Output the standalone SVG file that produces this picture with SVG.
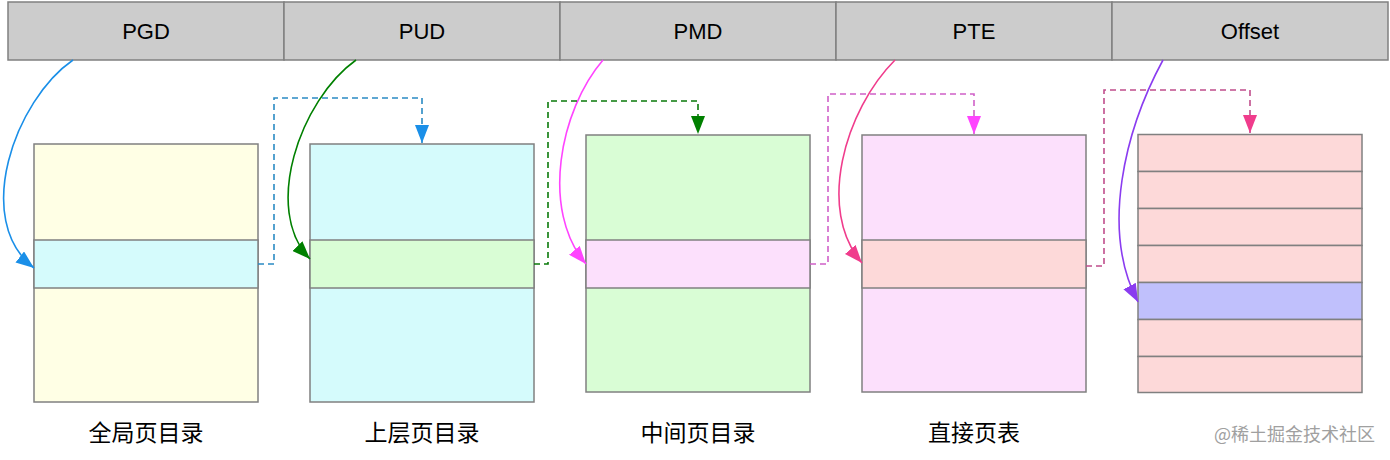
<svg xmlns="http://www.w3.org/2000/svg" width="1390" height="460" viewBox="0 0 1390 460">
<style>
.cell{fill:#cccccc;stroke:#808080;stroke-width:1.5}
.hd{font-family:"Liberation Sans",Arial,sans-serif;font-size:22px;fill:#000;text-anchor:middle}
.box{stroke:#808080;stroke-width:1.5}
.lbl{font-family:"Noto Sans CJK SC","Noto Sans",sans-serif;font-size:23px;fill:#000;text-anchor:middle}
.wm{font-family:"Noto Sans CJK SC","Noto Sans",sans-serif;font-size:18px;fill:#a0a0a0}
.cur{fill:none;stroke-width:1.6}
.dash{fill:none;stroke-width:1.6;stroke-dasharray:6 4}
</style>
<defs>
<marker id="mBlue" markerUnits="userSpaceOnUse" markerWidth="18" markerHeight="14" refX="18" refY="7" orient="auto"><path d="M0,0 L18,7 L0,14 z" fill="#1a8fe8"/></marker>
<marker id="mGreen" markerUnits="userSpaceOnUse" markerWidth="18" markerHeight="14" refX="18" refY="7" orient="auto"><path d="M0,0 L18,7 L0,14 z" fill="#008000"/></marker>
<marker id="mMag" markerUnits="userSpaceOnUse" markerWidth="18" markerHeight="14" refX="18" refY="7" orient="auto"><path d="M0,0 L18,7 L0,14 z" fill="#ff44ff"/></marker>
<marker id="mRed" markerUnits="userSpaceOnUse" markerWidth="18" markerHeight="14" refX="18" refY="7" orient="auto"><path d="M0,0 L18,7 L0,14 z" fill="#f03c8c"/></marker>
<marker id="mPur" markerUnits="userSpaceOnUse" markerWidth="18" markerHeight="14" refX="18" refY="7" orient="auto"><path d="M0,0 L18,7 L0,14 z" fill="#8a3cf0"/></marker>
</defs>
<rect width="1390" height="460" fill="#ffffff"/>

<g id="header">
<g id="h-pgd"><rect class="cell" x="8" y="2" width="276" height="58"/><text class="hd" x="146" y="39">PGD</text></g>
<g id="h-pud"><rect class="cell" x="284" y="2" width="276" height="58"/><text class="hd" x="422" y="39">PUD</text></g>
<g id="h-pmd"><rect class="cell" x="560" y="2" width="276" height="58"/><text class="hd" x="698" y="39">PMD</text></g>
<g id="h-pte"><rect class="cell" x="836" y="2" width="276" height="58"/><text class="hd" x="974" y="39">PTE</text></g>
<g id="h-off"><rect class="cell" x="1112" y="2" width="276" height="58"/><text class="hd" x="1250" y="39">Offset</text></g>
</g>

<g id="pgd-table">
<rect class="box" x="34" y="144" width="224" height="258" fill="#ffffe5"/>
<rect class="box" x="34" y="240" width="224" height="48" fill="#d5fbfc"/>
<text class="lbl" x="146" y="441">全局页目录</text>
</g>
<g id="pud-table">
<rect class="box" x="310" y="144" width="224" height="258" fill="#d5fbfc"/>
<rect class="box" x="310" y="240" width="224" height="48" fill="#d9fdd5"/>
<text class="lbl" x="422" y="441">上层页目录</text>
</g>
<g id="pmd-table">
<rect class="box" x="586" y="135" width="224" height="257" fill="#d9fdd5"/>
<rect class="box" x="586" y="240" width="224" height="48" fill="#fce0fc"/>
<text class="lbl" x="698" y="441">中间页目录</text>
</g>
<g id="pte-table">
<rect class="box" x="862" y="135" width="224" height="257" fill="#fce0fc"/>
<rect class="box" x="862" y="240" width="224" height="48" fill="#fdd9d9"/>
<text class="lbl" x="974" y="441">直接页表</text>
</g>
<g id="page">
<rect class="box" x="1138" y="134.5" width="224" height="37" fill="#fdd9d9"/>
<rect class="box" x="1138" y="171.5" width="224" height="37" fill="#fdd9d9"/>
<rect class="box" x="1138" y="208.5" width="224" height="37" fill="#fdd9d9"/>
<rect class="box" x="1138" y="245.5" width="224" height="37" fill="#fdd9d9"/>
<rect class="box" x="1138" y="282.5" width="224" height="37" fill="#c0c0fc"/>
<rect class="box" x="1138" y="319.5" width="224" height="37" fill="#fdd9d9"/>
<rect class="box" x="1138" y="356.5" width="224" height="36" fill="#fdd9d9"/>
</g>

<g id="connectors">
<path class="cur" stroke="#1a8fe8" d="M73 60 C15 100,-28 220,34 268" marker-end="url(#mBlue)"/>
<path class="cur" stroke="#008000" d="M356 60 C300 100,262 210,310 259" marker-end="url(#mGreen)"/>
<path class="cur" stroke="#ff44ff" d="M603 60 C560 110,540 210,586 264" marker-end="url(#mMag)"/>
<path class="cur" stroke="#f03c8c" d="M895 60 C845 110,816 210,862 263" marker-end="url(#mRed)"/>
<path class="cur" stroke="#8a3cf0" d="M1163 60 C1125 130,1100 230,1138 302" marker-end="url(#mPur)"/>

<path class="dash" stroke="#2a8ac4" d="M258 264 H274 V98 H422 V143" marker-end="url(#mBlue)"/>
<path class="dash" stroke="#0a7a0a" d="M534 264 H548 V101 H698 V134" marker-end="url(#mGreen)"/>
<path class="dash" stroke="#d060c8" d="M810 264 H828 V94 H974 V134" marker-end="url(#mMag)"/>
<path class="dash" stroke="#c04e8c" d="M1086 266 H1104 V90 H1250 V133" marker-end="url(#mRed)"/>
</g>

<text class="wm" x="1214" y="441">@稀土掘金技术社区</text>
</svg>
